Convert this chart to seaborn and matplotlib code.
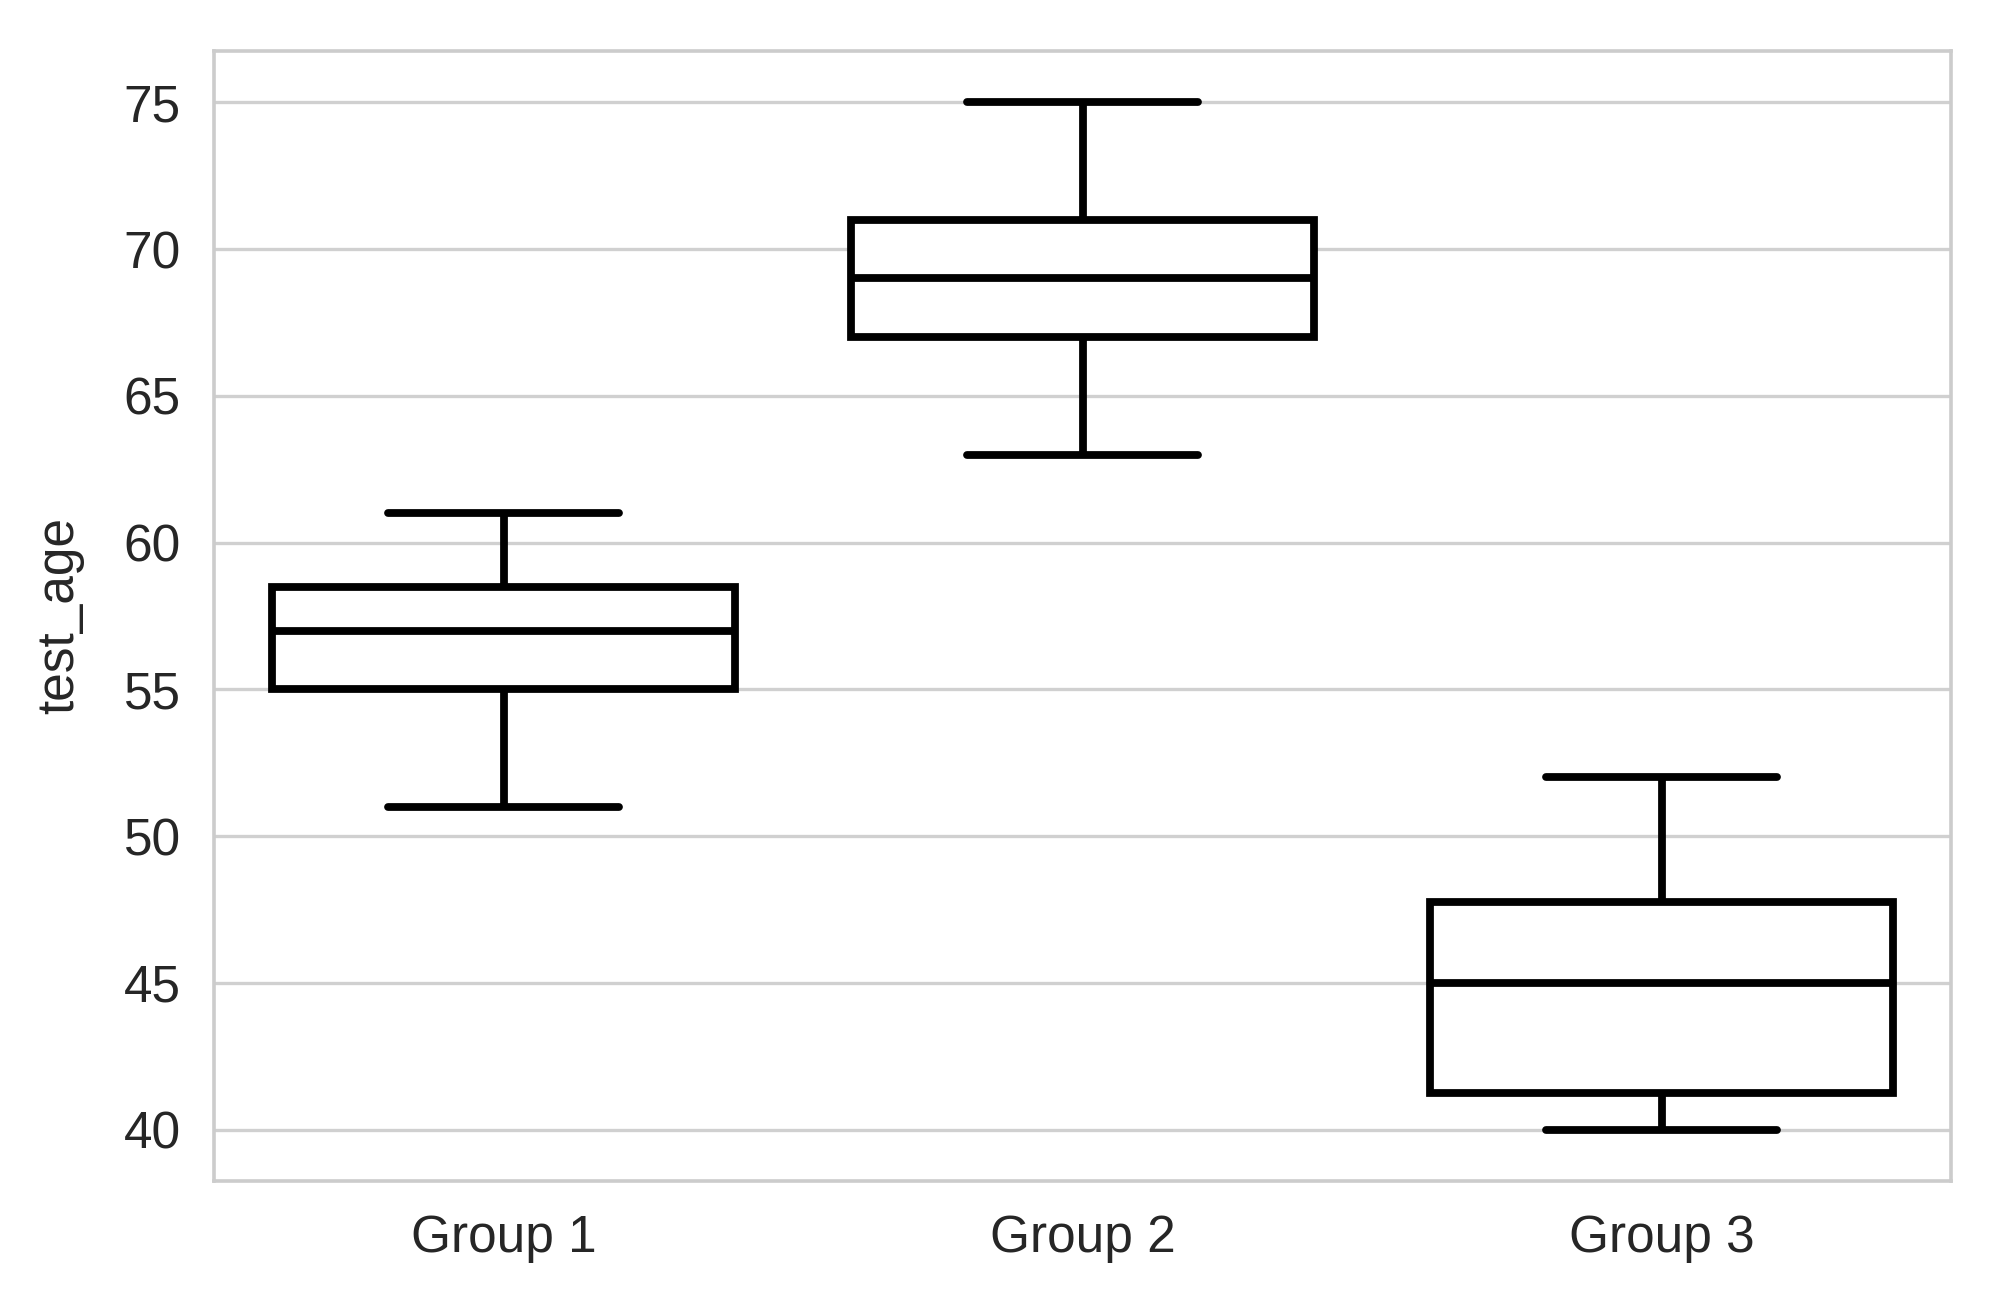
import matplotlib
matplotlib.use("Agg")
import matplotlib.pyplot as plt
import seaborn as sns
import pandas as pd

# Five-number summaries (min, Q1, median, Q3, max)
groups = ["Group 1", "Group 2", "Group 3"]
group1_vals = [51, 55, 57, 58.5, 61]
group2_vals = [63, 67, 69, 71, 75]
group3_vals = [40, 41.25, 45, 47.75, 52]
y_ticks = [40, 45, 50, 55, 60, 65, 70, 75]

df = pd.DataFrame({
    "group": [groups[0]] * len(group1_vals) + [groups[1]] * len(group2_vals) + [groups[2]] * len(group3_vals),
    "test_age": group1_vals + group2_vals + group3_vals,
})

sns.set_theme(style="whitegrid")
plt.rcParams["font.family"] = ["Liberation Sans", "DejaVu Sans"]

fig = plt.figure(figsize=(1997 / 200, 1306 / 200), dpi=200)
ax = fig.add_axes([0.1072, 0.0957, 0.977 - 0.1072, 0.961 - 0.0957])

lw = 2.8
sns.boxplot(
    data=df, x="group", y="test_age", ax=ax, width=0.8, whis=1.5,
    color="white", linewidth=lw, fliersize=0,
    boxprops=dict(facecolor="white", edgecolor="black", linewidth=lw),
    whiskerprops=dict(color="black", linewidth=lw),
    capprops=dict(color="black", linewidth=lw),
    medianprops=dict(color="black", linewidth=lw),
)

fs = 18.5
ax.set_yticks(y_ticks)
ax.set_xlabel("")
ax.set_ylabel("test_age", fontsize=fs, color="#262626", labelpad=14)
ax.tick_params(axis="both", labelsize=fs, colors="#262626", length=0)
ax.tick_params(axis="x", pad=12)
ax.tick_params(axis="y", pad=12)
ax.grid(True, axis="y", color="#d0d0d0", linewidth=1.2)
ax.grid(False, axis="x")
for s in ax.spines.values():
    s.set_color("#cccccc")
    s.set_linewidth(1.3)

fig.savefig("out.png", dpi=200)
